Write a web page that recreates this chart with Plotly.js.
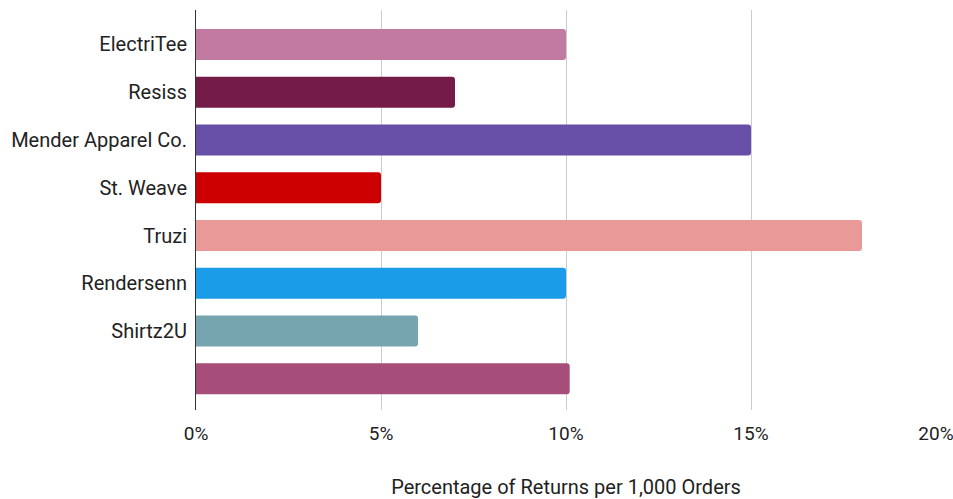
<!DOCTYPE html>
<html>
<head>
<meta charset="utf-8">
<script src="https://cdn.plot.ly/plotly-3.0.1.min.js"></script>
<style>html,body{margin:0;padding:0;background:#fff;}#chart{width:953px;height:499px;}</style>
</head>
<body>
<div id="chart"></div>
<script>
const brands = ["ElectriTee", "Resiss", "Mender Apparel Co.", "St. Weave", "Truzi", "Rendersenn", "Shirtz2U", ""];
const returnPct = [10, 7, 15, 5, 18, 10, 6, 10.1];
const barColors = ["#C27BA0", "#741B47", "#674EA7", "#CC0000", "#EA9999", "#1A9CE8", "#76A5AF", "#A64D79"];
const xTickVals = [0, 5, 10, 15, 20];
const xTickText = ["0%", "5%", "10%", "15%", "20%"];

const idx = brands.map((_, i) => i);

const trace = {
  type: "bar",
  orientation: "h",
  x: returnPct,
  y: idx,
  marker: { color: barColors, cornerradius: 3, line: { width: 0 } },
  hoverinfo: "skip"
};

const layout = {
  width: 953,
  height: 499,
  margin: { l: 196, r: 17, t: 10, b: 89 },
  paper_bgcolor: "#fff",
  plot_bgcolor: "#fff",
  font: { family: "Roboto, sans-serif", color: "#222", size: 20 },
  showlegend: false,
  bargap: 0.35,
  xaxis: {
    range: [0, 20],
    tickvals: xTickVals,
    ticktext: xTickText,
    showgrid: true,
    gridcolor: "#cccccc",
    gridwidth: 1,
    zeroline: false,
    showline: false,
    ticks: "",
    ticklabelstandoff: 10,
    ticklabeloverflow: "allow",
    tickfont: { size: 19, color: "#222" },
    title: { text: "Percentage of Returns per 1,000 Orders", font: { size: 20, color: "#222" }, standoff: 36 }
  },
  yaxis: {
    range: [7.653, -0.722],
    tickvals: idx,
    ticktext: brands,
    showgrid: false,
    zeroline: false,
    showline: true,
    linecolor: "#333",
    linewidth: 1,
    ticks: "",
    ticklabelstandoff: 4,
    tickfont: { size: 20, color: "#222" }
  }
};

Plotly.newPlot("chart", [trace], layout, { staticPlot: true, displayModeBar: false });
</script>
</body>
</html>
